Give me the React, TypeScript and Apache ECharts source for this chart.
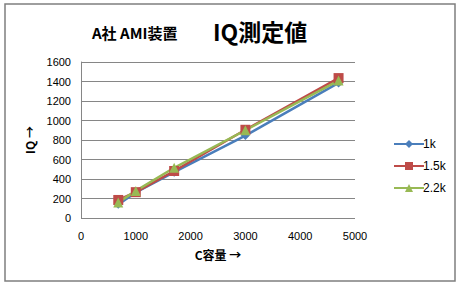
import React, { useEffect, useRef } from "react";
import * as echarts from "echarts";

const capacities = [680, 1000, 1700, 3000, 4700];
const seriesNames = ["1k", "1.5k", "2.2k"];
const iq1k = [140, 262, 470, 845, 1385];
const iq15k = [185, 265, 482, 905, 1435];
const iq22k = [160, 278, 515, 900, 1410];
const colors = ["#4A7EBB", "#BE4B48", "#98B954"];
const symbols = ["diamond", "rect", "triangle"];
const symbolSizes = [9, 10, 10];

export default function App() {
  const ref = useRef<HTMLDivElement>(null);
  useEffect(() => {
    document.body.style.margin = "0";
    const chart = echarts.init(ref.current!, null, { renderer: "svg" });
    const all = [iq1k, iq15k, iq22k];
    chart.setOption({
      animation: false,
      backgroundColor: "#ffffff",
      textStyle: { fontFamily: "Liberation Sans, Arial, sans-serif" },
      graphic: [
        {
          type: "rect",
          shape: { x: 5, y: 4, width: 450, height: 277 },
          style: { fill: "none", stroke: "#7f7f7f", lineWidth: 1.5 },
          silent: true,
        },
        {
          type: "text",
          x: 92,
          y: 32,
          style: {
            text: "A社 AMI装置",
            font: "bold 15px 'Noto Sans CJK JP', sans-serif",
            fill: "#000",
            textVerticalAlign: "middle",
          },
        },
        {
          type: "text",
          x: 213,
          y: 31,
          style: {
            text: "IQ測定値",
            font: "bold 23px 'Noto Sans CJK JP', sans-serif",
            fill: "#000",
            textVerticalAlign: "middle",
          },
        },
      ],
      grid: { left: 81, right: 105, top: 62, bottom: 66, containLabel: false },
      legend: {
        orient: "vertical",
        left: 388,
        top: 133,
        itemGap: 10,
        itemWidth: 30,
        itemHeight: 10,
        textStyle: { fontSize: 12, color: "#000", padding: [0, 0, 0, -6] },
        data: seriesNames,
      },
      xAxis: {
        type: "value",
        min: 0,
        max: 5000,
        interval: 1000,
        name: "C容量 →",
        nameLocation: "middle",
        nameGap: 30,
        nameTextStyle: {
          fontSize: 12,
          fontWeight: "bold",
          color: "#000",
          fontFamily: "'Noto Sans CJK JP', sans-serif",
        },
        axisLine: { show: false },
        axisTick: { show: false },
        splitLine: { show: false },
        axisLabel: { fontSize: 11, color: "#000", margin: 12, formatter: (v: number) => String(v) },
      },
      yAxis: {
        type: "value",
        min: 0,
        max: 1600,
        interval: 200,
        name: "IQ →",
        nameLocation: "middle",
        nameGap: 42,
        nameTextStyle: {
          fontSize: 12,
          fontWeight: "bold",
          color: "#000",
          fontFamily: "'Noto Sans CJK JP', sans-serif",
        },
        axisLine: { show: true, lineStyle: { color: "#868686", width: 1 } },
        axisTick: { show: false },
        splitLine: { show: true, lineStyle: { color: "#868686", width: 1 } },
        axisLabel: { fontSize: 11, color: "#000", margin: 10, formatter: (v: number) => String(v) },
      },
      series: seriesNames.map((name, i) => ({
        name,
        type: "line",
        data: capacities.map((c, j) => [c, all[i][j]]),
        symbol: symbols[i],
        symbolSize: symbolSizes[i],
        showAllSymbol: true,
        lineStyle: { color: colors[i], width: 2.5 },
        itemStyle: { color: colors[i] },
      })),
    });
    return () => chart.dispose();
  }, []);
  return (
    <div
      ref={ref}
      style={{ position: "absolute", left: 0, top: 0, width: 460, height: 284 }}
    />
  );
}
